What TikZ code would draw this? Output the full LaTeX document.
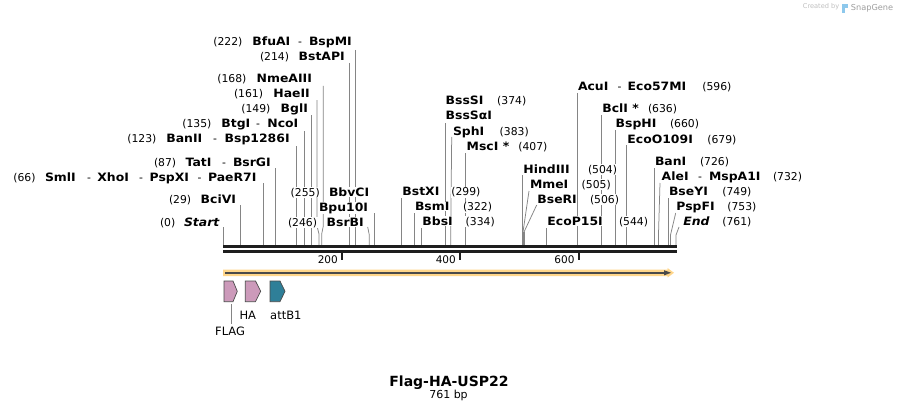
\documentclass[tikz,border=0pt]{standalone}
\usepackage{fontspec}
\setmainfont{DejaVu Sans}
\newfontfamily\enzfont[FakeStretch=1.08]{DejaVu Sans}
\definecolor{cutgray}{HTML}{858585}
\definecolor{rulerblack}{HTML}{1E1E1E}
\definecolor{bandorange}{HTML}{FFD68A}
\definecolor{banddark}{HTML}{4A4A4A}
\definecolor{flagpink}{HTML}{CC9ABA}
\definecolor{attteal}{HTML}{2F7F98}
\definecolor{snapblue}{HTML}{8DC8EC}
\newcommand\mycutv[3]{\coordinate (#1t) at (#2,#3); \coordinate (#1b) at (#2,245.3); \draw[cut] (#1t) -- (#1b);}
\newcommand\mycuts[6]{\coordinate (#1t) at (#2,#3); \coordinate (#1m) at (#4,#5); \coordinate (#1b) at (#4,245.3); \draw[cut] (#1t) -- (#1m) -- (#1b);}
\begin{document}
\begin{tikzpicture}[x=1pt,y=-1pt,
  num/.style={anchor=base west, inner sep=0.5pt, fill=white, font=\fontsize{10.8}{12}\selectfont},
  enz/.style={anchor=base west, inner sep=0.5pt, fill=white, font=\enzfont\fontsize{11.5}{13}\selectfont\bfseries},
  enzi/.style={enz, font=\enzfont\fontsize{11.5}{13}\selectfont\bfseries\itshape},
  cut/.style={draw=cutgray, line width=0.75pt},
  feat/.style={draw=banddark, line width=0.7pt},
  flbl/.style={anchor=base west, inner sep=0pt, font=\fontsize{11.5}{13}\selectfont},
  rlbl/.style={anchor=base east, inner sep=0pt, font=\fontsize{10.5}{12}\selectfont}]
\fill[white] (0,0) rectangle (900,412);
\useasboundingbox (0,0) rectangle (900,412);

% ---------- cut-site connectors ----------
\mycutv{cStart}{223.3}{227}
\mycutv{cBciVI}{240.7}{205}
\mycutv{cSmlI}{263}{183}
\mycutv{cTatI}{275.3}{168}
\mycutv{cBanII}{296.5}{146}
\mycutv{cBtgI}{304}{131}
\mycutv{cBglI}{311.5}{115}
\coordinate (cHaeIIt) at (317,100); \coordinate (cHaeIIm1) at (317,226); \coordinate (cHaeIIm2) at (319,234); \coordinate (cHaeIIb) at (319,245.3);
\draw[cut] (cHaeIIt) -- (cHaeIIm1) -- (cHaeIIm2) -- (cHaeIIb);
\coordinate (cNmeAIIIt) at (323.3,86); \coordinate (cNmeAIIIm1) at (323.3,226); \coordinate (cNmeAIIIm2) at (321.7,234); \coordinate (cNmeAIIIb) at (321.7,245.3);
\draw[cut] (cNmeAIIIt) -- (cNmeAIIIm1) -- (cNmeAIIIm2) -- (cNmeAIIIb);
\mycutv{cBstAPI}{349.5}{63}
\mycutv{cBfuAI}{355.3}{50}
\mycuts{cBsrBI}{367.7}{227}{369.3}{235}{}
\mycutv{cBpu}{374.3}{213}
\mycutv{cBstXI}{401.7}{198}
\mycutv{cBsmI}{414.3}{213}
\mycutv{cBbsI}{421.5}{228}
\mycutv{cBssSI}{445.3}{123}
\mycuts{cSphI}{451.7}{137}{450.7}{235}{}
\mycutv{cMscI}{465.7}{153}
\mycutv{cHindIII}{522.5}{175}
\mycuts{cMmeI}{529}{191}{523}{232}{}
\mycuts{cBseRI}{536.7}{205}{524}{232}{}
\fill[cutgray] (522,232) rectangle (524.6,245.3);
\mycutv{cEcoP15I}{546.3}{228}
\mycutv{cAcuI}{577.3}{93}
\mycutv{cBclI}{601.7}{115}
\mycutv{cBspHI}{615}{130}
\mycutv{cEcoO}{626.7}{145}
\mycutv{cBanI}{654.3}{168}
\mycuts{cAleI}{660}{183}{658.5}{234}{}
\mycutv{cBseYI}{668.3}{198}
\mycuts{cPspFI}{675.7}{213}{670.5}{235}{}
\mycuts{cEnd}{679}{227}{676}{235}{}

% ---------- left-column labels ----------
\node[num] (n222) at (212.7,46) {(222)};
\node[enz] (eBfuAI) at (251.7,46) {BfuAI};
\node[num] (d222) at (297.5,46) {-};
\node[enz] (eBspMI) at (308.3,46) {BspMI};
\node[num] (n214) at (259.3,61) {(214)};
\node[enz] (eBstAPI) at (298,61) {BstAPI};
\node[num] (n168) at (216.7,82.5) {(168)};
\node[enz] (eNmeAIII) at (256,82.5) {NmeAIII};
\node[num] (n161) at (233.3,97.5) {(161)};
\node[enz] (eHaeII) at (272.7,97.5) {HaeII};
\node[num] (n149) at (240.7,113) {(149)};
\node[enz] (eBglI) at (280,113) {BglI};
\node[num] (n135) at (181.7,128) {(135)};
\node[enz] (eBtgI) at (220.7,128) {BtgI};
\node[num] (d135) at (255.5,128) {-};
\node[enz] (eNcoI) at (266.7,128) {NcoI};
\node[num] (n123) at (126.7,142.5) {(123)};
\node[enz] (eBanII) at (165.7,142.5) {BanII};
\node[num] (d123) at (212.5,142.5) {-};
\node[enz] (eBsp) at (224,142.5) {Bsp1286I};
\node[num] (n87) at (153.3,166) {(87)};
\node[enz] (eTatI) at (185,166) {TatI};
\node[num] (d87) at (221.5,166) {-};
\node[enz] (eBsrGI) at (232.3,166) {BsrGI};
\node[num] (n66) at (12.7,181) {(66)};
\node[enz] (eSmlI) at (44.3,181) {SmlI};
\node[num] (d66a) at (86.5,181) {-};
\node[enz] (eXhoI) at (96.7,181) {XhoI};
\node[num] (d66b) at (138.5,181) {-};
\node[enz] (ePspXI) at (149,181) {PspXI};
\node[num] (d66c) at (197,181) {-};
\node[enz] (ePaeR7I) at (207.3,181) {PaeR7I};
\node[num] (n29) at (168.3,203) {(29)};
\node[enz] (eBciVI) at (200,203) {BciVI};
\node[num] (n0) at (159.3,226) {(0)};
\node[enzi] (eStart) at (183.3,226) {Start};

% ---------- middle labels ----------
\node[num] (n255) at (290,196) {(255)};
\node[enz] (eBbvCI) at (328.3,196) {BbvCI};
\node[enz] (eBpu) at (318.3,211) {Bpu10I};
\node[num] (n246) at (287.3,226) {(246)};
\node[enz] (eBsrBI) at (326,226) {BsrBI};

\node[enz] (eBstXI) at (401.7,195.7) {BstXI};
\node[num] (n299) at (450.7,195.7) {(299)};
\node[enz] (eBsmI) at (414.3,210.7) {BsmI};
\node[num] (n322) at (462.3,210.7) {(322)};
\node[enz] (eBbsI) at (421.7,225) {BbsI};
\node[num] (n334) at (465,225) {(334)};
\node[enz] (eBssSI) at (445,105) {BssSI};
\node[num] (n374) at (496.5,105) {(374)};
\node[enz] (eBssSaI) at (445,120) {BssSαI};
\node[enz] (eSphI) at (452.3,135) {SphI};
\node[num] (n383) at (499,135) {(383)};
\node[enz] (eMscI) at (466,150) {MscI *};
\node[num] (n407) at (517.7,150) {(407)};
\node[enz] (eHindIII) at (522.7,173) {HindIII};
\node[num] (n504) at (587.3,173) {(504)};
\node[enz] (eMmeI) at (529.3,188) {MmeI};
\node[num] (n505) at (581,188) {(505)};
\node[enz] (eBseRI) at (536.7,203) {BseRI};
\node[num] (n506) at (589.3,203) {(506)};
\node[enz] (eEcoP15I) at (546.7,225) {EcoP15I};
\node[num] (n544) at (618.3,225) {(544)};

% ---------- right labels ----------
\node[enz] (eAcuI) at (577.3,90.7) {AcuI};
\node[num] (d596) at (617,90.7) {-};
\node[enz] (eEco57MI) at (627,90.7) {Eco57MI};
\node[num] (n596) at (701.7,90.7) {(596)};
\node[enz] (eBclI) at (601.7,112.5) {BclI *};
\node[num] (n636) at (647.3,112.5) {(636)};
\node[enz] (eBspHI) at (615,127.3) {BspHI};
\node[num] (n660) at (669.3,127.3) {(660)};
\node[enz] (eEcoO) at (626.7,143) {EcoO109I};
\node[num] (n679) at (706.7,143) {(679)};
\node[enz] (eBanI) at (654.3,165.7) {BanI};
\node[num] (n726) at (699.3,165.7) {(726)};
\node[enz] (eAleI) at (661,180.7) {AleI};
\node[num] (d732) at (697.5,180.7) {-};
\node[enz] (eMspA1I) at (708.3,180.7) {MspA1I};
\node[num] (n732) at (772.3,180.7) {(732)};
\node[enz] (eBseYI) at (668.3,195.7) {BseYI};
\node[num] (n749) at (721.7,195.7) {(749)};
\node[enz] (ePspFI) at (675.7,210.7) {PspFI};
\node[num] (n753) at (726.7,210.7) {(753)};
\node[enzi] (eEnd) at (682.7,225) {End};
\node[num] (n761) at (721.7,225) {(761)};

% ---------- ruler ----------
\fill[rulerblack] (223,245.3) rectangle (677,248.3);
\fill[rulerblack] (223,250) rectangle (677,252.7);
\coordinate (t200a) at (342.3,252); \coordinate (t200b) at (342.3,260);
\coordinate (t400a) at (460.3,252); \coordinate (t400b) at (460.3,260);
\coordinate (t600a) at (579,252); \coordinate (t600b) at (579,260);
\draw[rulerblack, line width=1.8pt] (t200a) -- (t200b);
\draw[rulerblack, line width=1.8pt] (t400a) -- (t400b);
\draw[rulerblack, line width=1.8pt] (t600a) -- (t600b);
\node[rlbl] (r200) at (338,263.3) {200};
\node[rlbl] (r400) at (456,263.3) {400};
\node[rlbl] (r600) at (574.7,263.3) {600};

% ---------- sequence feature arrow ----------
\fill[bandorange] (223,269.6) -- (667.5,269.6) -- (667.5,268) -- (674,272.8) -- (667.5,277.6) -- (667.5,276) -- (223,276) -- cycle;
\coordinate (seqA) at (225,272.8); \coordinate (seqB) at (665,272.8);
\draw[banddark, line width=1.6pt] (seqA) -- (seqB);
\fill[banddark] (664,270.2) -- (671,272.8) -- (664,275.4) -- cycle;

% ---------- features ----------
\filldraw[feat, fill=flagpink] (224,281) -- (233,281) -- (237.3,291.3) -- (233,301.7) -- (224,301.7) -- cycle;
\filldraw[feat, fill=flagpink] (245.3,281) -- (255.5,281) -- (260.7,291.3) -- (255.5,301.7) -- (245.3,301.7) -- cycle;
\filldraw[feat, fill=attteal] (270,281) -- (280,281) -- (285,291.3) -- (280,301.7) -- (270,301.7) -- cycle;
\node[flbl] (lHA) at (239.3,319.3) {HA};
\node[flbl] (lattB1) at (270,319.3) {attB1};
\node[flbl] (lFLAG) at (215,335) {FLAG};
\coordinate (flagA) at (231.5,304); \coordinate (flagB) at (231.5,323.5);
\draw[cutgray, line width=0.8pt] (flagA) -- (flagB);

% ---------- title ----------
\node[anchor=base, inner sep=0pt, font=\fontsize{14}{16}\selectfont\bfseries] (title) at (449,386) {Flag-HA-USP22};
\node[anchor=base, inner sep=0pt, font=\fontsize{11}{13}\selectfont] (len) at (448.5,398) {761 bp};

% ---------- credit ----------
\node[anchor=base west, inner sep=0pt, text=black!25, font=\fontsize{6.6}{8}\selectfont] (cred) at (802.7,9) {Created by};
\fill[snapblue] (842,4) rectangle (848.3,8.5);
\fill[snapblue] (842,8.5) rectangle (845,13);
\node[anchor=base west, inner sep=0pt, text=black!38, font=\fontsize{8.2}{10}\selectfont] (snap) at (850.7,10.7) {SnapGene};
\end{tikzpicture}
\end{document}
